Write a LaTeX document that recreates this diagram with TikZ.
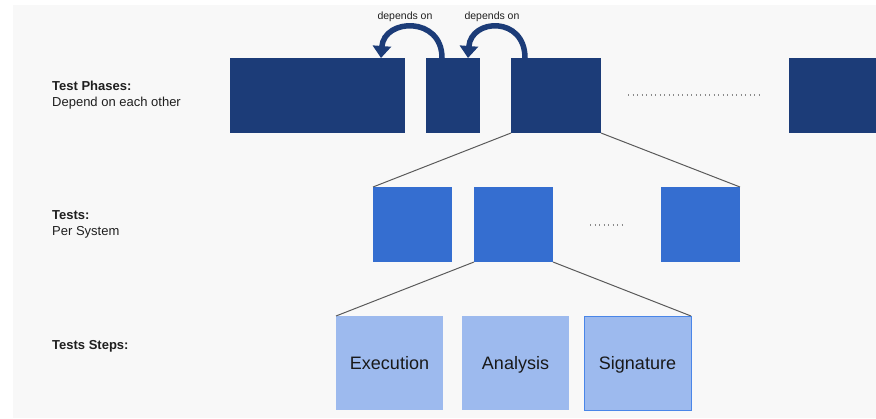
\documentclass[tikz,border=0pt]{standalone}
\usepackage{fontspec}
\setmainfont{Liberation Sans}
\usetikzlibrary{arrows.meta,calc}
\definecolor{pagebg}{HTML}{F8F8F8}
\definecolor{phaseblue}{HTML}{1C3C78}
\definecolor{testblue}{HTML}{356ED0}
\definecolor{stepblue}{HTML}{9DBAEE}
\definecolor{stepedge}{HTML}{4A86E8}
\definecolor{linkgray}{HTML}{5A5A5A}
\definecolor{dotgray}{HTML}{8A8A8A}
\begin{document}
\begin{tikzpicture}[x=1pt,y=-1pt,
  blk/.style={rectangle,anchor=north west,inner sep=0pt,outer sep=0pt},
  phase/.style={blk,fill=phaseblue,minimum height=75pt},
  testbox/.style={blk,fill=testblue,minimum width=79pt,minimum height=75pt},
  stepbox/.style={blk,fill=stepblue,minimum width=107pt,minimum height=94pt,
    text height=12.9pt,text depth=0pt,
    font=\fontsize{18}{20}\selectfont,text=black!90},
  rowlabel/.style={anchor=west,align=left,inner sep=0pt,
    font=\fontsize{13}{16}\selectfont,text=black!88},
  link/.style={draw=linkgray,line width=1pt},
  dots/.style={draw=dotgray,line width=1.2pt,dash pattern=on 1pt off 3.5pt},
  dep/.style={draw=phaseblue,line width=5.5pt,
    -{Triangle[width=18pt,length=12pt]}},
  deplabel/.style={font=\fontsize{10.5}{12}\selectfont,text=black!88}]
\useasboundingbox (0,0) rectangle (876,418);
\fill[pagebg] (13,5) rectangle (876,418);

% row labels
\node[rowlabel] (lphase) at (52,95) {\textbf{Test Phases:}\\Depend on each other};
\node[rowlabel] (ltest) at (52,224) {\textbf{Tests:}\\Per System};
\node[rowlabel] (lstep) at (52,346) {\textbf{Tests Steps:}};

% test phases
\node[phase,minimum width=175pt] (p1) at (230,58) {};
\node[phase,minimum width=54pt] (p2) at (426,58) {};
\node[phase,minimum width=90pt] (p3) at (511,58) {};
\node[phase,minimum width=87pt] (p4) at (789,58) {};
\coordinate (pd1) at (628,95);
\coordinate (pd2) at (762,95);
\draw[dots] (pd1) -- (pd2);

% dependencies between phases
\draw[dep] ($(p2.north west)+(16,0)$) .. controls +(0,-42) and +(3,-40) .. ($(p1.north east)+(-24,0)$);
\draw[dep] ($(p3.north west)+(14,0)$) .. controls +(0,-42) and +(3,-40) .. ($(p2.north west)+(42,0)$);
\node[deplabel] (d1) at (405,17) {depends on};
\node[deplabel] (d2) at (492,17) {depends on};

% tests per system
\node[testbox] (t1) at (373,187) {};
\node[testbox] (t2) at (474,187) {};
\node[testbox] (t3) at (661,187) {};
\coordinate (td1) at (590,225);
\coordinate (td2) at (624,225);
\draw[dots] (td1) -- (td2);
\draw[link] (p3.south west) -- (t1.north west);
\draw[link] (p3.south east) -- (t3.north east);

% test steps
\node[stepbox] (s1) at (336,316) {Execution};
\node[stepbox] (s2) at (462,316) {Analysis};
\node[stepbox,draw=stepedge,line width=1pt] (s3) at (584,316) {Signature};
\draw[link] (t2.south west) -- (s1.north west);
\draw[link] (t2.south east) -- (s3.north east);
\end{tikzpicture}
\end{document}
